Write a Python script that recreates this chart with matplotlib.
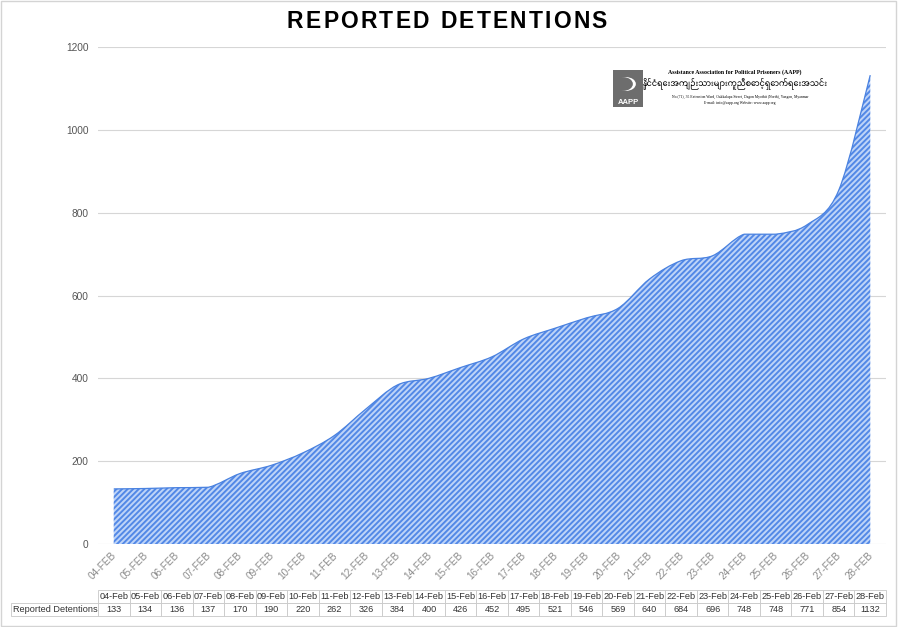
import numpy as np
import matplotlib
matplotlib.use("Agg")
import matplotlib.pyplot as plt
from matplotlib.path import Path
from matplotlib.patches import PathPatch, Rectangle, Circle
from matplotlib.font_manager import FontProperties
from matplotlib import transforms

# data
days = ["04", "05", "06", "07", "08", "09", "10", "11", "12", "13", "14", "15", "16",
        "17", "18", "19", "20", "21", "22", "23", "24", "25", "26", "27", "28"]
detentions = [133, 134, 136, 137, 170, 190, 220, 262, 326, 384, 400, 426, 452,
              495, 521, 546, 569, 640, 684, 696, 748, 748, 771, 854, 1132]
tick_labels = [d + "-FEB" for d in days]
col_labels = [d + "-Feb" for d in days]
row_label = "Reported Detentions"
yticks = [0, 200, 400, 600, 800, 1000, 1200]
title = "REPORTED DETENTIONS"

plt.rcParams['font.family'] = ['Liberation Sans', 'DejaVu Sans']
plt.rcParams['hatch.linewidth'] = 1.4

fig = plt.figure(figsize=(8.98, 6.27), dpi=100)
ax = fig.add_axes([98/898, 1-544/627, 788/898, 497/627])

x = np.arange(len(detentions))
y = np.array(detentions, dtype=float)

# smooth outline like the spreadsheet (cubic bezier through each point)
verts = [(x[0], 0), (x[0], y[0])]
codes = [Path.MOVETO, Path.LINETO]
n = len(x)
for i in range(n - 1):
    p0 = np.array([x[max(i-1, 0)], y[max(i-1, 0)]])
    p1 = np.array([x[i], y[i]])
    p2 = np.array([x[i+1], y[i+1]])
    p3 = np.array([x[min(i+2, n-1)], y[min(i+2, n-1)]])
    c1 = p1 + (p2 - p0) / 6
    c2 = p2 - (p3 - p1) / 6
    lo, hi = min(p1[1], p2[1]), max(p1[1], p2[1])
    c1[1] = np.clip(c1[1], lo, hi)
    c2[1] = np.clip(c2[1], lo, hi)
    verts += [tuple(c1), tuple(c2), tuple(p2)]
    codes += [Path.CURVE4] * 3
line_verts = verts[1:]
line_codes = [Path.MOVETO] + codes[2:]
verts += [(x[-1], 0), (x[0], 0)]
codes += [Path.LINETO, Path.CLOSEPOLY]

area = PathPatch(Path(verts, codes), facecolor='#bed4f8', edgecolor='#5288e6',
                 hatch='//////', linewidth=0, zorder=2)
ax.add_patch(area)
outline = PathPatch(Path(line_verts, line_codes), facecolor='none',
                    edgecolor='#4a82e0', linewidth=0.9, zorder=3)
ax.add_patch(outline)

ax.set_xlim(-0.5, n - 0.5)
ax.set_ylim(0, 1200)
ax.set_yticks(yticks)
ax.set_yticklabels([str(v) for v in yticks], fontsize=7.3, color='#555555')
ax.yaxis.grid(True, color='#d6d6d6', linewidth=0.8, zorder=0)
ax.set_axisbelow(True)
ax.tick_params(axis='y', length=0, pad=7)
ax.tick_params(axis='x', length=0, pad=7)
ax.set_xticks(x)
ax.set_xticklabels(tick_labels, rotation=45, ha='right', va='center',
                   rotation_mode='anchor', fontsize=7.2, color='#8a8a8a')
off = transforms.ScaledTranslation(1/100, 0, fig.dpi_scale_trans)
for lab in ax.get_xticklabels():
    lab.set_transform(lab.get_transform() + off)
for s in ax.spines.values():
    s.set_visible(False)

# data table under the chart
cells = [[""] + col_labels, [row_label] + [str(v) for v in detentions]]
tw = 875
widths = [87/tw] + [(tw-87)/25/tw] * 25
x0 = (11-98)/788
tbl = ax.table(cellText=cells, colWidths=widths, cellLoc='center',
               bbox=[x0, (544-616)/497, 1-x0, 26/497])
tbl.auto_set_font_size(False)
tbl.set_fontsize(6.6)
for (r, c), cell in tbl.get_celld().items():
    cell.set_edgecolor('#c8c8c8')
    cell.set_linewidth(0.6)
    cell.PAD = 0.02
    cell.get_text().set_color('#333333')
    if r == 1 and c == 0:
        cell.set_text_props(ha='left')
        cell.PAD = 0.025
    if r == 0 and c == 0:
        cell.visible_edges = ''

# title with letter spacing
renderer = fig.canvas.get_renderer()
tprop = FontProperties(family=['Liberation Sans'], weight='bold', size=16.5)
def text_w(s):
    w, h, d = renderer.get_text_width_height_descent(s.replace(" ", "\u00a0"), tprop, ismath=False)
    return w
full_w = text_w(title)
track = (320 - full_w) / (len(title) - 1)
left = 287
for i, ch in enumerate(title):
    px = left + text_w(title[:i]) + i * track if i else left
    fig.text(px/898, 1-22/627, ch, ha='left', va='center', fontproperties=tprop,
             color='black')

# logo block
logo = Rectangle((613/898, 1-107/627), 30/898, 37/627, transform=fig.transFigure,
                 facecolor='#6d6d6d', edgecolor='none')
fig.patches.append(logo)
fig.patches.append(Circle((626/898, 1-84/627), 0.011, transform=fig.transFigure,
                          facecolor='white', edgecolor='none'))
fig.patches.append(Circle((623/898, 1-84/627), 0.011, transform=fig.transFigure,
                          facecolor='#6d6d6d', edgecolor='none'))
fig.text(628/898, 1-102/627, "AAPP", ha='center', va='center', fontsize=5.5,
         fontweight='bold', color='white')
fig.text(735/898, 1-72/627, "Assistance Association for Political Prisoners (AAPP)",
         ha='center', va='center', fontsize=4.2, fontweight='bold',
         family=['Liberation Serif', 'DejaVu Serif'])
fig.text(735/898, 1-83/627, "နိုင်ငံရေးအကျဉ်းသားများကူညီစောင့်ရှောက်ရေးအသင်း",
         ha='center', va='center', fontsize=5.8, fontweight='bold',
         family=['Noto Sans Myanmar', 'Noto Sans', 'DejaVu Sans'])
fig.text(740/898, 1-97/627,
         "No.(71), 35 Extension Ward, Oakkalapa Street, Dagon Myothit (North), Yangon, Myanmar",
         ha='center', va='center', fontsize=2.7, family=['Liberation Serif'])
fig.text(740/898, 1-103/627, "E-mail: info@aapp.org Website: www.aapp.org",
         ha='center', va='center', fontsize=2.7, family=['Liberation Serif'])

border = Rectangle((0.001, 0.002), 0.997, 0.996, transform=fig.transFigure,
                   facecolor='none', edgecolor='#d4d4d4', linewidth=1)
fig.patches.append(border)

fig.savefig("out.png", dpi=100)
